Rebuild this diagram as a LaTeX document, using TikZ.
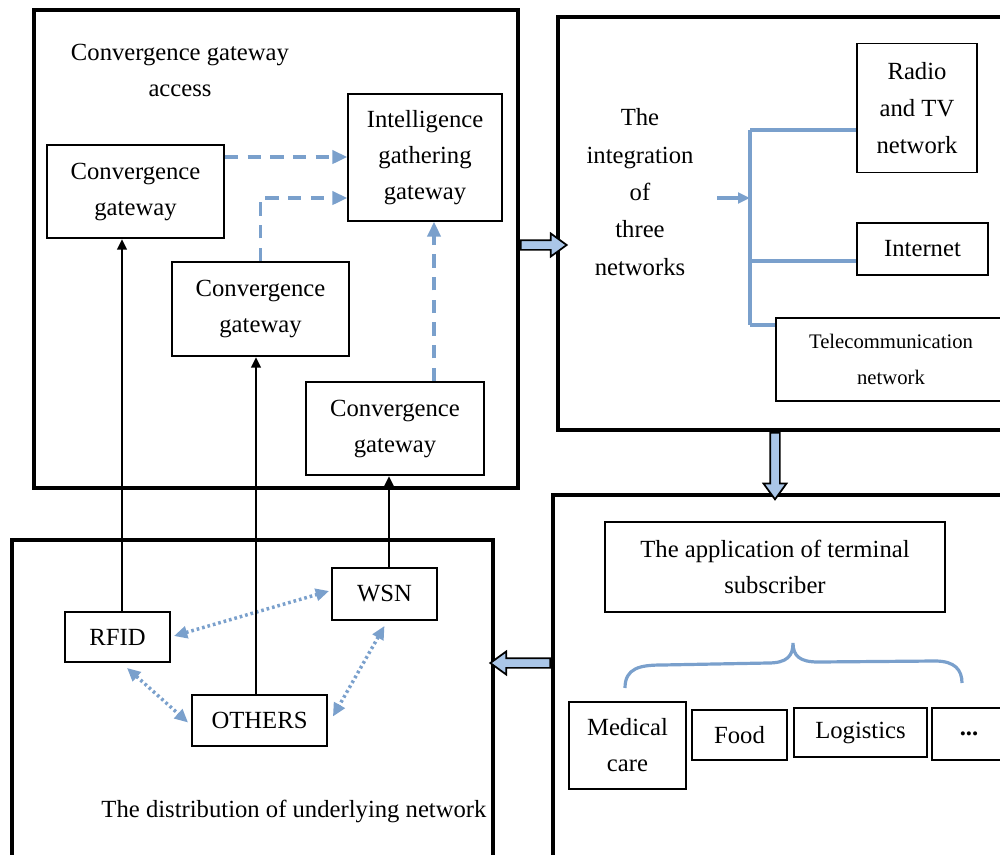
\documentclass[tikz,border=0pt]{standalone}
\usepackage{fontspec}
\setmainfont{Liberation Serif}
\usetikzlibrary{arrows.meta,fit,shapes.arrows,calc}
\definecolor{linkblue}{RGB}{122,160,204}
\definecolor{arrowfill}{RGB}{170,198,232}

\begin{document}
\begin{tikzpicture}[x=0.75pt,y=-0.75pt,
  font=\fontsize{18.5}{27}\selectfont,
  panel/.style={draw, line width=2.7pt, inner sep=0pt},
  box/.style={draw, line width=1.4pt, inner sep=0pt, align=center},
  sz/.style 2 args={minimum width=#1*0.75pt, minimum height=#2*0.75pt},
  label/.style={align=center, inner sep=0pt},
  feed/.style={draw, line width=2pt, -{Triangle[length=8pt,width=7pt]}},
  relay/.style={draw=linkblue, line width=2.4pt, dash pattern=on 10pt off 7pt, -{Triangle[length=11pt,width=10pt]}},
  peer/.style={draw=linkblue, line width=2.6pt, dash pattern=on 2pt off 2.2pt, {Triangle[length=10pt,width=9pt]}-{Triangle[length=10pt,width=9pt]}},
  branch/.style={draw=linkblue, line width=2.4pt},
  blockarrow/.style={single arrow, draw, line width=1.3pt, fill=arrowfill, inner sep=3pt, single arrow head extend=5pt, single arrow tip angle=72, minimum height=#1},
]
\clip (0,0) rectangle (1000,854);

% four panels
\node[panel, fit={(34,10) (518,488)}] (pA) {};
\node[panel, fit={(558,17) (1010,430)}] (pB) {};
\node[panel, fit={(12,540) (493,870)}] (pC) {};
\node[panel, fit={(553,495) (1010,870)}] (pD) {};

% gateway access layer
\node[label] (accesstitle) at (180,70) {Convergence gateway\\access};
\node[box, sz={177}{93}] (cg1) at (135.5,191.5) {Convergence\\gateway};
\node[box, sz={154}{127}] (igg) at (425,157.5) {Intelligence\\gathering\\gateway};
\node[box, sz={177}{94}] (cg2) at (260.5,309) {Convergence\\gateway};
\node[box, sz={178}{93}] (cg3) at (395,428.5) {Convergence\\gateway};

\draw[relay] (cg1.east |- 0,157) -- (igg.west |- 0,157);
\draw[relay] (cg2.north) |- (igg.west |- 0,198);
\draw[relay] (cg3.north -| 434,0) -- (igg.south -| 434,0);

% three networks
\node[label, font=\fontsize{18.5}{28}\selectfont] (tri) at (640,192) {The\\integration\\of\\three\\networks};
\node[box, sz={120}{129}, font=\fontsize{18.5}{28}\selectfont] (radio) at (917,108) {Radio\\and TV\\network};
\node[box, sz={131}{52}] (internet) at (922.5,249) {Internet};
\node[box, sz={230}{83}, font=\fontsize{15.5}{27}\selectfont] (telecom) at (891,359.5) {Telecommunication\\network};

\coordinate (feedin) at (717,198);
\coordinate (hub) at (750,198);
\coordinate (trunktop) at (750,130);
\coordinate (trunkbot) at (750,325);
\draw[branch, -{Triangle[length=9pt,width=8pt]}] (feedin) -- (hub);
\draw[branch] (trunktop) -- (trunkbot);
\draw[branch] (trunktop) -- (radio.west |- trunktop);
\draw[branch] (750,261) -- (internet.west |- 0,261);
\draw[branch] (trunkbot) -- (telecom.west |- trunkbot);

% terminal applications
\node[box, sz={340}{90}] (app) at (775,567) {The application of terminal\\subscriber};
\node[box, sz={117}{87}] (medical) at (627.5,745.5) {Medical\\care};
\node[box, sz={95}{50}] (food) at (739.5,735) {Food};
\node[box, sz={133}{49}] (logistics) at (860.5,732.5) {Logistics};
\node[box, sz={74}{52}] (more) at (969,734) {\textbf{...}};

\coordinate (bl) at (625,688);
\coordinate (bt) at (793,643);
\coordinate (br) at (962,683);
\draw[branch] (bl) .. controls (625,668) and (640,665) .. (662,665)
  -- (768,663) .. controls (787,663) and (793,656) .. (bt)
  .. controls (793,656) and (800,662) .. (818,662)
  -- (935,661) .. controls (955,661) and (962,670) .. (br);

% underlying network
\node[label] (disttitle) at (294,811) {The distribution of underlying network};
\node[box, sz={105}{50}] (rfid) at (117.5,637) {RFID};
\node[box, sz={105}{52}] (wsn) at (384.5,594) {WSN};
\node[box, sz={135}{51}] (others) at (259.5,720.5) {OTHERS};

\draw[peer] ($(rfid.east)+(3,-1)$) -- ($(wsn.west)+(-2,-3)$);
\draw[peer] ($(rfid.south -| 127,0)+(0,5)$) -- ($(others.west)+(-3,2)$);
\draw[peer] ($(wsn.south)+(0,5)$) -- ($(others.east)+(5,-4)$);

\draw[feed] (rfid.north -| 122,0) -- (cg1.south -| 122,0);
\draw[feed] (others.north -| 256,0) -- (cg2.south -| 256,0);
\draw[feed] (wsn.north -| 389,0) -- (cg3.south -| 389,0);

% flow between panels
\node[blockarrow=34.5pt, anchor=tail] (ab) at (pA.east |- 0,245) {};
\node[blockarrow=50pt, rotate=270, anchor=tail] (bd) at (pB.south -| 775,0) {};
\node[blockarrow=45pt, rotate=180, anchor=tail] (dc) at (pD.west |- 0,663) {};
\end{tikzpicture}
\end{document}
